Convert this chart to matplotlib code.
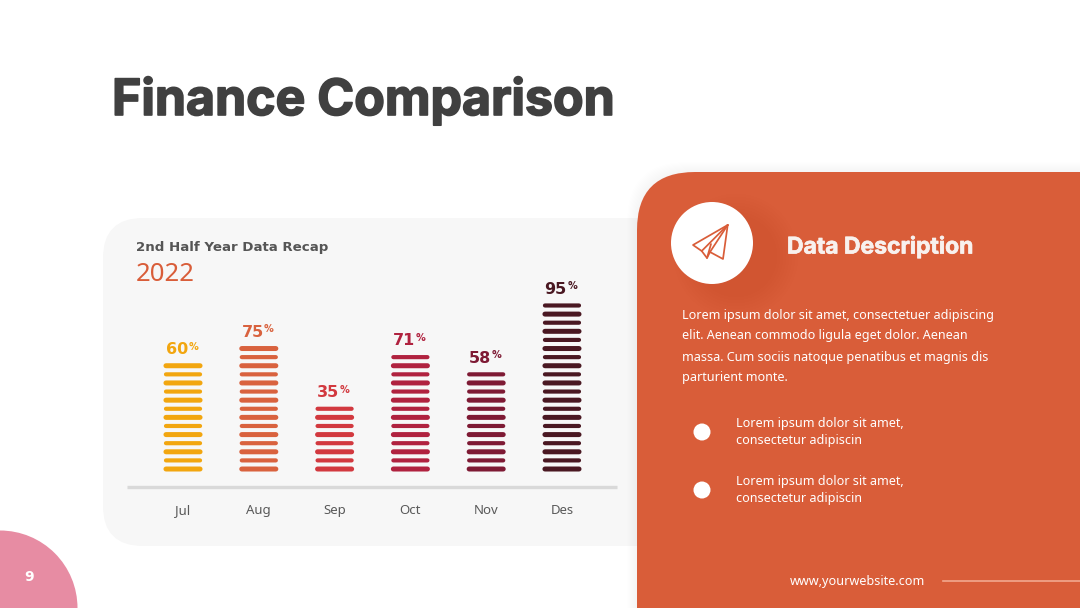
import matplotlib
matplotlib.use('Agg')
import matplotlib.pyplot as plt
import matplotlib.patheffects as pe
from matplotlib.patches import Circle, FancyBboxPatch

months = ['Jul', 'Aug', 'Sep', 'Oct', 'Nov', 'Des']
percents = [60, 75, 35, 71, 58, 95]
stripe_counts = [13, 15, 8, 14, 12, 20]
bar_colors = ['#F2A60F', '#D9623E', '#D2393F', '#B0223F', '#7E1A34', '#4A1822']

ORANGE = '#D95D39'
BODY_FONT = 'Noto Sans'
BOLD_FONT = 'DejaVu Sans'
HEAD_FONT = 'Inter'

body_lines = [
    'Lorem ipsum dolor sit amet, consectetuer adipiscing',
    'elit. Aenean commodo ligula eget dolor. Aenean',
    'massa. Cum sociis natoque penatibus et magnis dis',
    'parturient monte.',
]

fig = plt.figure(figsize=(10.8, 6.08), dpi=100, facecolor='white')

# whole slide in pixel coordinates
bg = fig.add_axes([0, 0, 1, 1])
bg.set_xlim(0, 1080)
bg.set_ylim(608, 0)
bg.axis('off')


def rounded(x, y, w, h, r, **kw):
    patch = FancyBboxPatch((x + r, y + r), w - 2 * r, h - 2 * r,
                           boxstyle=f'round,pad={r},rounding_size={r}', linewidth=0, **kw)
    bg.add_patch(patch)
    return patch


bg.text(112, 115, 'Finance Comparison', fontsize=36, fontweight='bold', family=HEAD_FONT,
        color='#404040', va='baseline',
        path_effects=[pe.withStroke(linewidth=1.2, foreground='#404040')])

# grey card, then the soft shadow of the orange panel over it
rounded(103, 218, 600, 328, 40, color='#F7F7F7')
for grow in range(1, 11):
    rounded(637 - grow, 172 - grow, 560, 600, 60, color='black', alpha=0.0035)

rounded(637, 172, 560, 600, 58, color=ORANGE)

bg.add_patch(Circle((0, 608), 77.5, color='#E78CA3', linewidth=0))
bg.text(29, 577, '9', fontsize=10, fontweight='bold', family=BOLD_FONT, color='white',
        ha='center', va='center')

bg.text(136, 247, '2nd Half Year Data Recap', fontsize=9.6, fontweight='bold', family=BOLD_FONT,
        color='#555555', va='center')
bg.text(135.5, 274.5, '2022', fontsize=18.5, family=BODY_FONT, color=ORANGE, va='center')

# shading behind the icon
for r in range(62, 40, -3):
    bg.add_patch(Circle((736, 256), r, color='#8A3A20', alpha=0.012, linewidth=0))
bg.add_patch(Circle((712, 243), 41, color='white', linewidth=0))

# paper plane icon
tip = (727.7, 225)
plane = [[tip, (693, 245), (701.7, 251), (707, 258), (710, 252), (723, 259), tip],
         [(701.7, 251), tip],
         [(710, 252), tip],
         [(707, 258), (711, 244)]]
for path in plane:
    bg.plot([p[0] for p in path], [p[1] for p in path], color=ORANGE, lw=1.25,
            solid_joinstyle='round', solid_capstyle='round')

bg.text(787, 247, 'Data Description', fontsize=16.5, fontweight='bold', family=HEAD_FONT,
        color='#F8F1EE', va='center',
        path_effects=[pe.withStroke(linewidth=0.5, foreground='#F8F1EE')])

for line, y in zip(body_lines, [315, 336, 357, 378]):
    bg.text(682, y, line, fontsize=9.03, family=BODY_FONT, color='white', va='center')

for y in (432, 490):
    bg.add_patch(Circle((702, y), 8.5, color='white', linewidth=0))
    bg.text(736.5, y - 8, 'Lorem ipsum dolor sit amet,', fontsize=9.03, family=BODY_FONT,
            color='white', va='center')
    bg.text(736.5, y + 8.5, 'consectetur adipiscin', fontsize=9.03, family=BODY_FONT,
            color='white', va='center')

bg.text(790, 581, 'www,yourwebsite.com', fontsize=9.1, family=BODY_FONT, color='white', va='center')
bg.plot([943, 1080], [581, 581], color='#F2A88F', lw=1.2)

# the chart itself, x = month index, y = stripe index
ax = fig.add_axes([127 / 1080, (608 - 487) / 608, 490 / 1080, 197 / 608])
ax.patch.set_alpha(0)
ax.set_xlim(-0.739, 5.726)
ax.set_ylim(-2.09, 20.8)
for name in ('top', 'left', 'right'):
    ax.spines[name].set_visible(False)
ax.spines['bottom'].set_color('#D9D9D9')
ax.spines['bottom'].set_linewidth(2.4)
ax.spines['bottom'].set_capstyle('butt')
ax.set_yticks([])
ax.set_xticks(range(len(months)))
ax.set_xticklabels(months, fontsize=9.5, family=BODY_FONT, color='#595959')
ax.tick_params(axis='x', length=0, pad=12.3)

for i, (pct, n, col) in enumerate(zip(percents, stripe_counts, bar_colors)):
    for k in range(n):
        # stripes alternate slightly thick and thin
        lw = 3.6 if k % 2 == 0 else 3.0
        ax.plot([i - 0.225, i + 0.225], [k, k], color=col, lw=lw, solid_capstyle='round', snap=False)
    num = ax.annotate(str(pct), xy=(i, n - 1), xytext=(-4.5, 8.5), textcoords='offset points',
                      ha='center', va='baseline', fontsize=11.5, fontweight='bold',
                      family=BOLD_FONT, color=col)
    ax.annotate('%', xy=(1, 1.02), xycoords=num, xytext=(0.3, 0), textcoords='offset points',
                ha='left', va='top', fontsize=7, fontweight='bold', family=BOLD_FONT, color=col)

plt.savefig('out.png', dpi=100)
